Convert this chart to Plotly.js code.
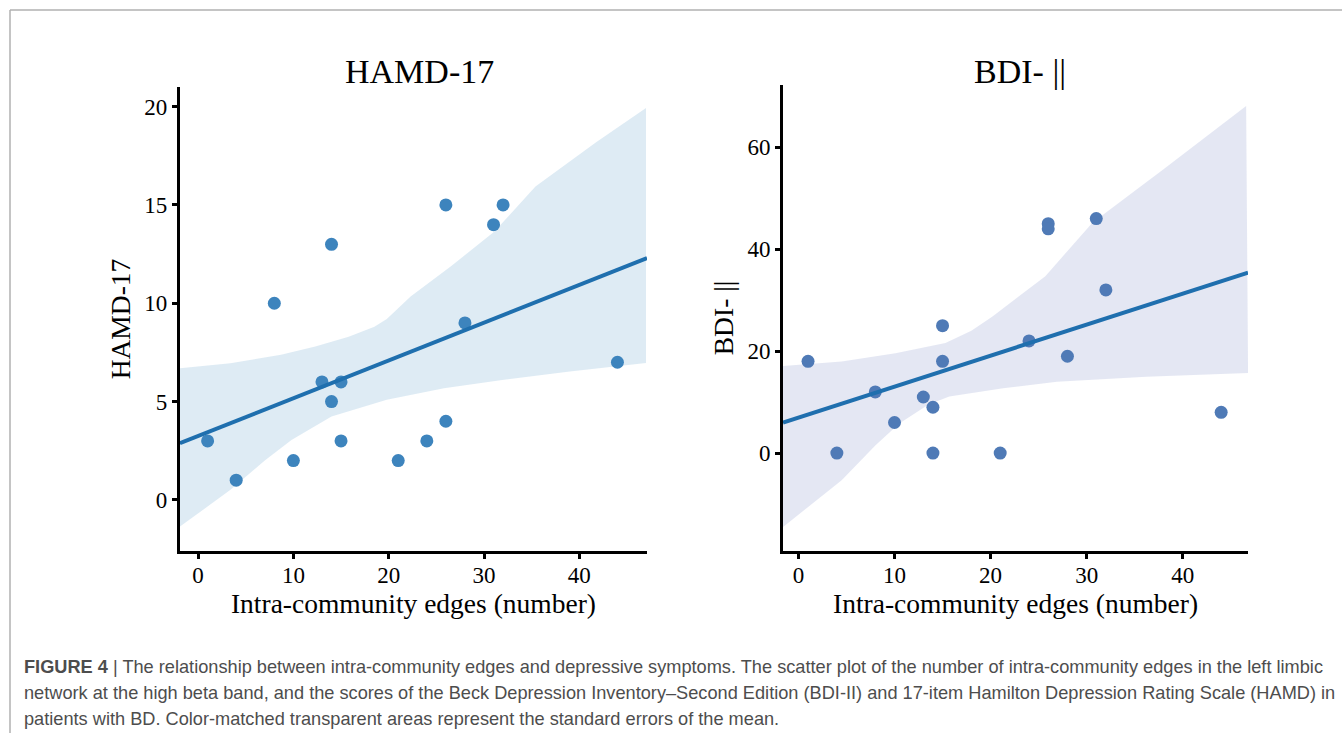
<!DOCTYPE html>
<html><head><meta charset="utf-8">
<script src="https://cdn.plot.ly/plotly-3.0.1.min.js"></script>
<style>html,body{margin:0;padding:0;background:#fff;}#chart{width:1342px;height:733px;}</style>
</head><body><div id="chart"></div>
<script>
// Data
const edges = [1,4,8,10,13,14,14,15,15,21,24,26,26,28,31,32,44];
const hamd  = [3,1,10,2,6,13,5,6,3,2,3,15,4,9,14,15,7];
const bdiEdges = [1,4,8,10,13,14,14,15,15,21,24,26,26,28,31,32,44];
const bdi   = [18,0,12,6,11,9,0,25,18,0,22,45,44,19,46,32,8];

// fitted line endpoints and SE band boundaries
const hamdFitX = [-1.9, 47.1];
const hamdFitY = [2.88, 12.3];
const hamdUpX = [-1.9, 3.4, 8.7, 12.3, 15.8, 18.5, 19.8, 22.3, 26.5, 31.1, 35.4, 41.8, 47.0];
const hamdUpY = [6.70, 6.95, 7.38, 7.8, 8.3, 8.8, 9.2, 10.35, 11.87, 13.65, 15.94, 18.2, 19.93];
const hamdLoX = [-1.9, 3.4, 7.0, 9.8, 14.0, 19.8, 25.8, 31.9, 39.0, 47.0];
const hamdLoY = [-1.36, 0.51, 2.0, 3.05, 4.24, 5.09, 5.68, 6.1, 6.53, 6.96];

const bdiFitX = [-1.6, 46.8];
const bdiFitY = [6.0, 35.4];
const bdiUpX = [-1.6, 4.5, 10.1, 15.3, 18.0, 20.2, 25.7, 30.6, 38.0, 46.6];
const bdiUpY = [17.1, 17.97, 19.6, 21.6, 24.0, 26.8, 34.7, 45.2, 55.7, 68.1];
const bdiLoX = [-1.6, 4.5, 8.0, 10.5, 13.5, 15.7, 21.3, 26.9, 36.2, 46.8];
const bdiLoY = [-14.5, -5.3, 1.5, 5.8, 9.5, 11.1, 12.7, 14.0, 15.0, 15.7];

const xTicks = [0,10,20,30,40];
const hamdTicks = [0,5,10,15,20];
const bdiTicks = [0,20,40,60];

function poly(ux, uy, lx, ly){
  return {x: ux.concat(lx.slice().reverse()), y: uy.concat(ly.slice().reverse())};
}
const hp = poly(hamdUpX, hamdUpY, hamdLoX, hamdLoY);
const bp = poly(bdiUpX, bdiUpY, bdiLoX, bdiLoY);

const lineCol = '#1f6fae';
const traces = [
  {x: hp.x, y: hp.y, fill:'toself', fillcolor:'rgba(31,119,180,0.15)', line:{width:0}, mode:'lines', xaxis:'x', yaxis:'y', hoverinfo:'skip'},
  {x: edges, y: hamd, mode:'markers', marker:{size:13, color:'#3d84bd'}, xaxis:'x', yaxis:'y'},
  {x: hamdFitX, y: hamdFitY, mode:'lines', line:{color:lineCol, width:4}, xaxis:'x', yaxis:'y'},
  {x: bp.x, y: bp.y, fill:'toself', fillcolor:'rgba(76,94,176,0.15)', line:{width:0}, mode:'lines', xaxis:'x2', yaxis:'y2', hoverinfo:'skip'},
  {x: bdiEdges, y: bdi, mode:'markers', marker:{size:13, color:'#4f7ab6'}, xaxis:'x2', yaxis:'y2'},
  {x: bdiFitX, y: bdiFitY, mode:'lines', line:{color:lineCol, width:4}, xaxis:'x2', yaxis:'y2'}
];

const serif = 'Liberation Serif, Times New Roman, serif';
const tickFont = {family: serif, size: 23, color:'#000'};
const axTitleFont = {family: serif, size: 27.5, color:'#000'};
function xax(domain, anchor){
  return {domain: domain, anchor: anchor, range:[-1.9, 47.1], tickvals: xTicks, showgrid:false, zeroline:false,
    showline:true, linecolor:'#000', linewidth:3, ticks:'outside', ticklen:5, tickwidth:3, tickcolor:'#000',
    ticklabelstandoff: -4,
    tickfont: tickFont, title:{text:'Intra-community edges (number)', font: axTitleFont, standoff: 4}};
}
function yax(domain, anchor, range, tv, title){
  return {domain: domain, anchor: anchor, range: range, tickvals: tv, showgrid:false, zeroline:false,
    showline:true, linecolor:'#000', linewidth:3, ticks:'outside', ticklen:5, tickwidth:3, tickcolor:'#000',
    tickfont: tickFont, title:{text: title, font: axTitleFont, standoff: 6}};
}
const x2 = xax([0.5835, 0.9300], 'y2'); x2.range = [-1.6, 46.8];

const capFont = {family: 'Liberation Sans Narrow, Arial Narrow, Liberation Sans, sans-serif', size: 18.2, color:'#4d4d4d'};
const layout = {
  width:1342, height:733, margin:{l:0,r:0,t:0,b:0}, showlegend:false,
  paper_bgcolor:'#fff', plot_bgcolor:'rgba(0,0,0,0)',
  xaxis: xax([0.1341, 0.4821], 'y'),
  yaxis: yax([0.2483, 0.8813], 'x', [-2.6, 21.0], hamdTicks, 'HAMD-17'),
  xaxis2: x2,
  yaxis2: yax([0.2483, 0.884], 'x2', [-19.2, 72.2], bdiTicks, 'BDI- ||'),
  shapes: [
    {type:'line', xref:'paper', yref:'paper', x0:10/1342, x1:1, y0:1-10/733, y1:1-10/733, line:{color:'#b0b0b0', width:1.5}},
    {type:'line', xref:'paper', yref:'paper', x0:10/1342, x1:10/1342, y0:0, y1:1-10/733, line:{color:'#b0b0b0', width:1.5}}
  ],
  annotations: [
    {text:'HAMD-17', xref:'paper', yref:'paper', x:419/1342, y:1-72/733, xanchor:'center', yanchor:'middle', showarrow:false, font:{family: serif, size:34, color:'#000'}},
    {text:'BDI- ||', xref:'paper', yref:'paper', x:1020/1342, y:1-72/733, xanchor:'center', yanchor:'middle', showarrow:false, font:{family: serif, size:34, color:'#000'}},
    {text:'<b>FIGURE 4</b> | The relationship between intra-community edges and depressive symptoms. The scatter plot of the number of intra-community edges in the left limbic', xref:'paper', yref:'paper', x:22/1342, y:1-667/733, xanchor:'left', yanchor:'middle', showarrow:false, font: capFont},
    {text:'network at the high beta band, and the scores of the Beck Depression Inventory–Second Edition (BDI-II) and 17-item Hamilton Depression Rating Scale (HAMD) in', xref:'paper', yref:'paper', x:22/1342, y:1-693/733, xanchor:'left', yanchor:'middle', showarrow:false, font: capFont},
    {text:'patients with BD. Color-matched transparent areas represent the standard errors of the mean.', xref:'paper', yref:'paper', x:22/1342, y:1-719/733, xanchor:'left', yanchor:'middle', showarrow:false, font: capFont}
  ]
};
Plotly.newPlot('chart', traces, layout, {displayModeBar:false, staticPlot:true});
</script>
</body></html>
